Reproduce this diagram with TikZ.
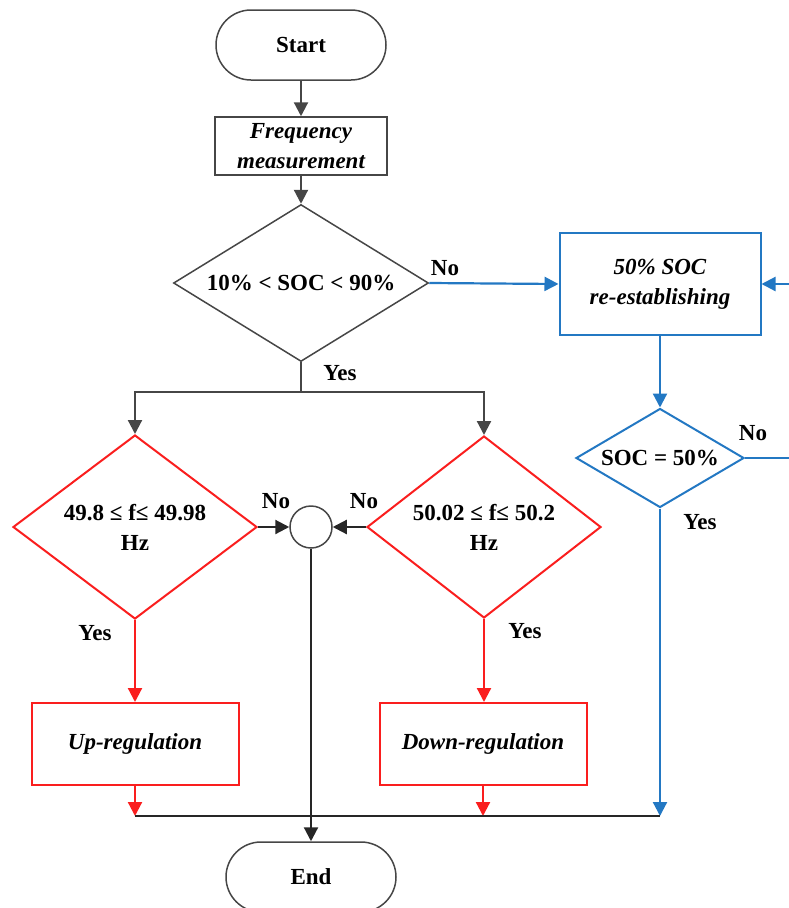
\documentclass[tikz,border=0pt]{standalone}
\usepackage{fontspec}
\setmainfont{Liberation Serif}
\usetikzlibrary{shapes.geometric,arrows.meta}
\definecolor{myred}{RGB}{250,30,30}
\definecolor{myblue}{RGB}{35,120,195}
\definecolor{mygray}{RGB}{70,70,70}
\begin{document}
\begin{tikzpicture}[x=1pt,y=-1pt,
  every node/.style={font=\fontsize{23}{30}\selectfont\bfseries, align=center},
  term/.style={draw=mygray, line width=1.5pt, rounded corners=35pt, minimum width=170pt, minimum height=70pt, inner sep=0pt},
  grbox/.style={draw=mygray, line width=1.5pt, minimum width=172pt, minimum height=58pt, inner sep=0pt, font=\fontsize{23}{30}\selectfont\bfseries\itshape},
  rdbox/.style={draw=myred, line width=2pt, minimum width=207pt, minimum height=82pt, inner sep=0pt, font=\fontsize{23}{30}\selectfont\bfseries\itshape},
  blbox/.style={draw=myblue, line width=2pt, minimum width=201pt, minimum height=102pt, inner sep=0pt, font=\fontsize{23}{30}\selectfont\bfseries\itshape},
  dec/.style={diamond, inner sep=0pt, line width=1.5pt},
  conn/.style={line width=2.2pt, -{Triangle[length=14pt,width=14pt]}},
  plain/.style={line width=2.2pt},
  lab/.style={inner sep=0pt}
]
\useasboundingbox (0,0) rectangle (788,908);

% nodes
\node[term] (start) at (301,45) {Start};
\node[grbox] (freq) at (301,146) {Frequency\\measurement};
\node[dec, draw=mygray, aspect=1.62, minimum width=255pt, minimum height=157pt] (d1) at (301,283) {10\% < SOC < 90\%};
\node[blbox] (soc) at (660,284) {50\% SOC\\re-establishing};
\node[dec, draw=myblue, line width=2pt, aspect=1.7, minimum width=168pt, minimum height=99pt] (d2) at (660,458) {SOC = 50\%};
\node[dec, draw=myred, line width=2pt, aspect=1.33, minimum width=244pt, minimum height=184pt] (dL) at (135,527) {49.8 ≤ f≤ 49.98\\Hz};
\node[dec, draw=myred, line width=2pt, aspect=1.29, minimum width=234pt, minimum height=182pt] (dR) at (484,527) {50.02 ≤ f≤ 50.2\\Hz};
\node[circle, draw=mygray, line width=1.5pt, minimum size=42pt, inner sep=0pt] (c) at (311,527) {};
\node[rdbox] (up) at (135,744) {Up-regulation};
\node[rdbox] (down) at (483,744) {Down-regulation};
\node[term] (end) at (311,877) {End};

% labels
\node[lab] (l1) at (445,268) {No};
\node[lab] (l2) at (340,373) {Yes};
\node[lab] (l3) at (753,433) {No};
\node[lab] (l4) at (700,522) {Yes};
\node[lab] (l5) at (276,501) {No};
\node[lab] (l6) at (364,501) {No};
\node[lab] (l7) at (95,633) {Yes};
\node[lab] (l8) at (525,631) {Yes};

% coordinates
\coordinate (split) at (301,392);
\coordinate (jL) at (135,816);
\coordinate (jR) at (660,816);
\coordinate (loopA) at (791,458);
\coordinate (loopB) at (791,284);

% gray connectors
\draw[conn, mygray] (start) -- (freq);
\draw[conn, mygray] (freq) -- (d1);
\draw[plain, mygray] (d1.south) -- (split);
\draw[conn, mygray] (split) -| (dL.north);
\draw[conn, mygray] (split) -| (dR.north);

% to circle
\draw[conn, black!85] (dL.east) -- (c.west);
\draw[conn, black!85] (dR.west) -- (c.east);
\draw[conn, black!85] (c.south) -- (end.north);

% red
\draw[conn, myred] (dL.south) -- (up.north);
\draw[conn, myred] (dR.south) -- (dR.south |- up.north);
\draw[conn, myred] (up.south) -- (jL);
\draw[conn, myred] (down.south) -- (down.south |- jL);

% blue
\draw[conn, myblue] (d1.east) -- (soc.west);
\draw[conn, myblue] (soc.south) -- (d2.north);
\draw[conn, myblue] (d2.east) -- (loopA) -- (loopB) -- (soc.east);
\draw[conn, myblue] (d2.south) -- (jR);

% bottom line
\draw[plain, black!85] (jL) -- (jR);
\end{tikzpicture}
\end{document}
